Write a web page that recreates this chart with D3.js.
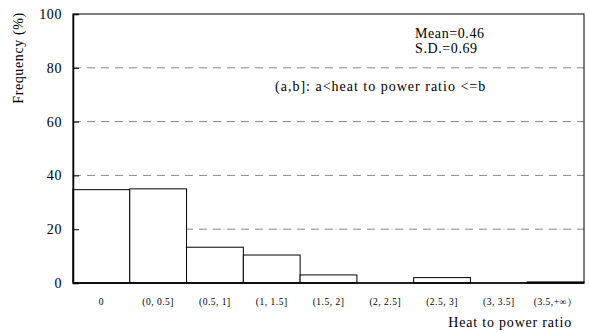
<!DOCTYPE html>
<html>
<head>
<meta charset="utf-8">
<script src="https://cdn.jsdelivr.net/npm/d3@7"></script>
<style>
  body { margin: 0; background: #fff; }
  text { font-family: "Liberation Serif", "DejaVu Serif", serif; fill: #000; }
</style>
</head>
<body>
<div id="chart"></div>
<script>
var width = 589,
    height = 333;

// bins of heat to power ratio and share of plants (%)
var categories = ["0", "(0, 0.5]", "(0.5, 1]", "(1, 1.5]", "(1.5, 2]",
                  "(2, 2.5]", "(2.5, 3]", "(3, 3.5]", "(3.5,+\u221e\uff09"];
var frequency = [34.7, 35.0, 13.3, 10.4, 3.0, 0, 2.0, 0, 0.4];
var yTicks = [0, 20, 40, 60, 80, 100];
var gridTicks = [20, 40, 60, 80];

var margin = {top: 14, right: 5, bottom: 50, left: 73};
var w = width - margin.left - margin.right,
    h = height - margin.top - margin.bottom;

var svg = d3.select("#chart")
    .append("svg")
    .attr("width", width)
    .attr("height", height);

var g = svg.append("g")
    .attr("transform", "translate(" + margin.left + "," + margin.top + ")");

var x = d3.scaleBand()
    .domain(categories)
    .range([0, w])
    .padding(0);

var y = d3.scaleLinear()
    .domain([0, 100])
    .range([h, 0]);

// dashed grid
g.selectAll(".grid")
    .data(gridTicks)
    .enter()
    .append("line")
    .attr("x1", 0)
    .attr("x2", w)
    .attr("y1", function(d) { return y(d); })
    .attr("y2", function(d) { return y(d); })
    .attr("stroke", "#888")
    .attr("stroke-width", 1)
    .attr("stroke-dasharray", "8,6");

// bars
g.selectAll(".bar")
    .data(frequency)
    .enter()
    .append("rect")
    .attr("x", function(d, i) { return x(categories[i]); })
    .attr("y", function(d) { return y(d); })
    .attr("width", x.bandwidth())
    .attr("height", function(d) { return h - y(d); })
    .attr("fill", "#fff")
    .attr("stroke", "#000")
    .attr("stroke-width", 1);

// frame
g.append("rect")
    .attr("x", 0)
    .attr("y", 0)
    .attr("width", w)
    .attr("height", h)
    .attr("fill", "none")
    .attr("stroke", "#000")
    .attr("stroke-width", 1);

// y axis, ticks pointing inward
var yAxis = g.append("g")
    .call(d3.axisRight(y).tickValues(yTicks).tickSize(6).tickFormat(d3.format("d")));
yAxis.select(".domain").attr("stroke-width", 1.5);
yAxis.selectAll("text")
    .attr("x", -11)
    .attr("text-anchor", "end")
    .style("font-size", "14px")
    .style("letter-spacing", "0.6px")
    .style("font-family", "Liberation Serif");

// x axis line
g.append("line")
    .attr("x1", 0).attr("x2", w)
    .attr("y1", h).attr("y2", h)
    .attr("stroke", "#000")
    .attr("stroke-width", 1.5);

// category labels
g.selectAll(".cat")
    .data(categories)
    .enter()
    .append("text")
    .attr("x", function(d) { return x(d) + x.bandwidth() / 2; })
    .attr("y", h + 22)
    .attr("text-anchor", "middle")
    .style("font-size", "9.5px")
    .style("letter-spacing", "0.5px")
    .text(function(d) { return d; });

// axis titles
svg.append("text")
    .attr("x", 572)
    .attr("y", 327)
    .attr("text-anchor", "end")
    .style("font-size", "14px")
    .style("letter-spacing", "0.8px")
    .text("Heat to power ratio");

svg.append("text")
    .attr("transform", "translate(23,58) rotate(-90)")
    .attr("text-anchor", "middle")
    .style("font-size", "14px")
    .style("letter-spacing", "0.6px")
    .text("Frequency  (%)");

// notes
svg.append("text")
    .attr("x", 415).attr("y", 38)
    .style("font-size", "14px")
    .style("letter-spacing", "0.6px")
    .text("Mean=0.46");
svg.append("text")
    .attr("x", 415).attr("y", 53)
    .style("font-size", "14px")
    .style("letter-spacing", "0.6px")
    .text("S.D.=0.69");
svg.append("text")
    .attr("x", 275).attr("y", 91)
    .style("font-size", "14px")
    .style("letter-spacing", "1px")
    .text("(a,b]: a<heat to power ratio <=b");
</script>
</body>
</html>
